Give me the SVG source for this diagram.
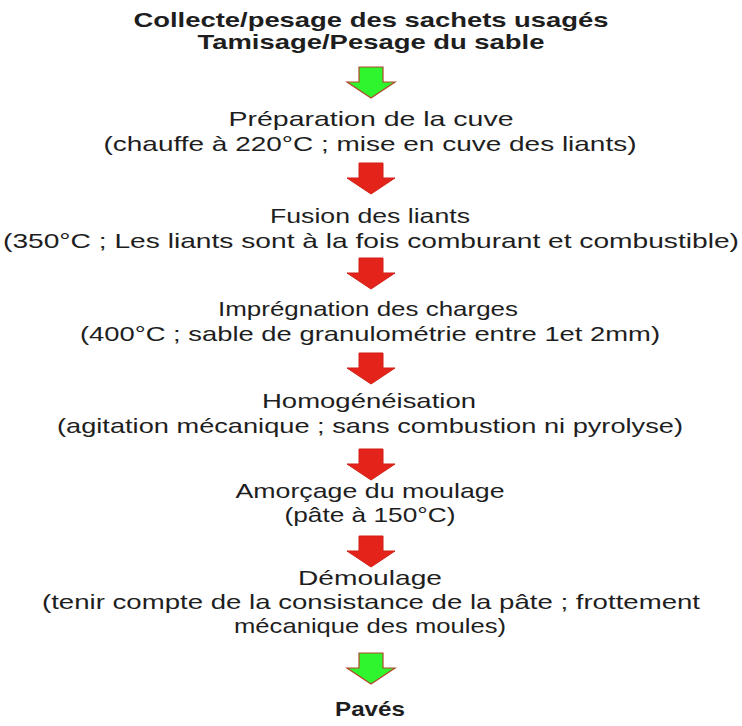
<svg xmlns="http://www.w3.org/2000/svg" width="742" height="726" viewBox="0 0 742 726">
  <style>
    text { font-family: "Liberation Sans", Arial, sans-serif; font-size: 21px; fill: #1e1e1e; text-anchor: middle; }
    .b { font-weight: bold; }
    .go { fill: #2ef52e; stroke: #b0482a; stroke-width: 1.2; }
    .step { fill: #e4231a; stroke: #d01f16; stroke-width: 1; }
  </style>
  <defs>
    <!-- block arrow pointing down, origin at top centre -->
    <path id="arr" d="M-12,0 H12 V15 H24 L0,31 L-24,15 H-12 Z"/>
  </defs>
  <rect width="742" height="726" fill="#ffffff"/>

  <g id="collecte">
    <text class="b" x="371" y="27" textLength="475" lengthAdjust="spacingAndGlyphs">Collecte/pesage des sachets usagés</text>
    <text class="b" x="371" y="49" textLength="347" lengthAdjust="spacingAndGlyphs">Tamisage/Pesage du sable</text>
  </g>
  <g id="preparation">
    <text x="371" y="126" textLength="285" lengthAdjust="spacingAndGlyphs">Préparation de la cuve</text>
    <text x="370" y="151" textLength="533" lengthAdjust="spacingAndGlyphs">(chauffe à 220°C ; mise en cuve des liants)</text>
  </g>
  <g id="fusion">
    <text x="370" y="223" textLength="200" lengthAdjust="spacingAndGlyphs">Fusion des liants</text>
    <text x="371" y="248" textLength="736" lengthAdjust="spacingAndGlyphs">(350°C ; Les liants sont à la fois comburant et combustible)</text>
  </g>
  <g id="impregnation">
    <text x="368" y="316" textLength="300" lengthAdjust="spacingAndGlyphs">Imprégnation des charges</text>
    <text x="370" y="341" textLength="580" lengthAdjust="spacingAndGlyphs">(400°C ; sable de granulométrie entre 1et 2mm)</text>
  </g>
  <g id="homogeneisation">
    <text x="369" y="408" textLength="214" lengthAdjust="spacingAndGlyphs">Homogénéisation</text>
    <text x="370" y="433" textLength="626" lengthAdjust="spacingAndGlyphs">(agitation mécanique ; sans combustion ni pyrolyse)</text>
  </g>
  <g id="amorcage">
    <text x="370" y="498" textLength="269" lengthAdjust="spacingAndGlyphs">Amorçage du moulage</text>
    <text x="370" y="522" textLength="171" lengthAdjust="spacingAndGlyphs">(pâte à 150°C)</text>
  </g>
  <g id="demoulage">
    <text x="370" y="585" textLength="144" lengthAdjust="spacingAndGlyphs">Démoulage</text>
    <text x="371" y="609" textLength="658" lengthAdjust="spacingAndGlyphs">(tenir compte de la consistance de la pâte ; frottement</text>
    <text x="370" y="633" textLength="272" lengthAdjust="spacingAndGlyphs">mécanique des moules)</text>
  </g>
  <g id="paves">
    <text class="b" x="370" y="716" textLength="70" lengthAdjust="spacingAndGlyphs">Pavés</text>
  </g>

  <g id="connectors">
    <use href="#arr" class="go" x="371" y="67"/>
    <use href="#arr" class="step" x="371" y="163"/>
    <use href="#arr" class="step" x="371" y="258"/>
    <use href="#arr" class="step" x="371" y="353"/>
    <use href="#arr" class="step" x="371" y="449"/>
    <use href="#arr" class="step" x="371" y="536"/>
    <use href="#arr" class="go" x="371" y="653"/>
  </g>
</svg>
